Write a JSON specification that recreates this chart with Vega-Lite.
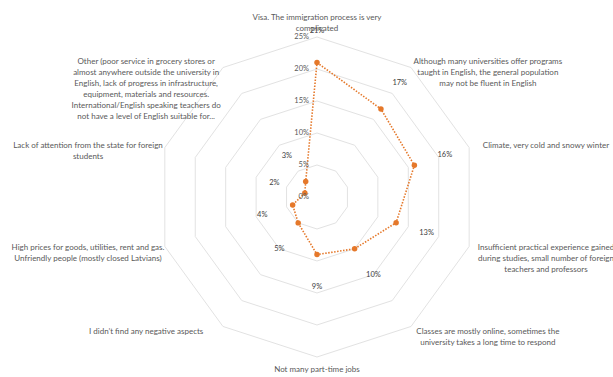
{
  "$schema": "https://vega.github.io/schema/vega-lite/v6.json",
  "width": 613,
  "height": 377,
  "padding": 0,
  "autosize": {"type": "none"},
  "background": "white",
  "config": {"view": {"stroke": null}, "text": {"font": "Lato"}},
  "datasets": {
    "cats": [
      {"i": 0, "value": 21, "label": ["Visa. The immigration process is very", "complicated"]},
      {"i": 1, "value": 17, "label": ["Although many universities offer programs", "taught in English, the general population", "may not be fluent in English"]},
      {"i": 2, "value": 16, "label": ["Climate, very cold and snowy winter"]},
      {"i": 3, "value": 13, "label": ["Insufficient practical experience gained", "during studies, small number of foreign", "teachers and professors"]},
      {"i": 4, "value": 10, "label": ["Classes are mostly online, sometimes the", "university takes a long time to respond"]},
      {"i": 5, "value": 9, "label": ["Not many part-time jobs"]},
      {"i": 6, "value": 5, "label": ["I didn’t find any negative aspects"]},
      {"i": 7, "value": 4, "label": ["High prices for goods, utilities, rent and gas.", "Unfriendly people (mostly closed Latvians)"]},
      {"i": 8, "value": 2, "label": ["Lack of attention from the state for foreign", "students"]},
      {"i": 9, "value": 3, "label": ["Other (poor service in grocery stores or", "almost anywhere outside the university in", "English, lack of progress in infrastructure,", "equipment, materials and resources.", "International/English speaking teachers do", "not have a level of English suitable for..."]}
    ],
    "ticks": [{"t": 0}, {"t": 5}, {"t": 10}, {"t": 15}, {"t": 20}, {"t": 25}]
  },
  "encoding": {
    "x": {"field": "px", "type": "quantitative", "scale": {"domain": [-49.53, 46.25], "nice": false, "zero": false}, "axis": null},
    "y": {"field": "py", "type": "quantitative", "scale": {"domain": [-28.125, 30.78], "nice": false, "zero": false}, "axis": null}
  },
  "layer": [
    {
      "data": {"name": "cats"},
      "transform": [
        {"calculate": "[5, 10, 15, 20, 25]", "as": "ring"},
        {"flatten": ["ring"]},
        {"calculate": "datum.ring * sin(datum.i * PI / 5)", "as": "px"},
        {"calculate": "datum.ring * cos(datum.i * PI / 5)", "as": "py"}
      ],
      "mark": {"type": "line", "interpolate": "linear-closed", "stroke": "#E2E2E2", "strokeWidth": 1},
      "encoding": {"detail": {"field": "ring"}, "order": {"field": "i"}}
    },
    {
      "data": {"name": "cats"},
      "transform": [
        {"calculate": "datum.value * sin(datum.i * PI / 5)", "as": "px"},
        {"calculate": "datum.value * cos(datum.i * PI / 5)", "as": "py"}
      ],
      "mark": {"type": "line", "interpolate": "linear-closed", "stroke": "#E5782A", "strokeWidth": 1.6, "strokeDash": [1.5, 1.5]},
      "encoding": {"order": {"field": "i"}}
    },
    {
      "data": {"name": "cats"},
      "transform": [
        {"calculate": "datum.value * sin(datum.i * PI / 5)", "as": "px"},
        {"calculate": "datum.value * cos(datum.i * PI / 5)", "as": "py"}
      ],
      "mark": {"type": "circle", "size": 30, "color": "#E5782A", "opacity": 1},
      "encoding": {}
    },
    {
      "data": {"name": "cats"},
      "transform": [
        {"calculate": "(datum.value + 5) * sin(datum.i * PI / 5)", "as": "px"},
        {"calculate": "(datum.value + 5) * cos(datum.i * PI / 5)", "as": "py"},
        {"calculate": "datum.value + '%'", "as": "vl"}
      ],
      "mark": {"type": "text", "fontSize": 7.5, "color": "#404040", "align": "center", "baseline": "middle"},
      "encoding": {"text": {"field": "vl"}}
    },
    {
      "data": {"name": "ticks"},
      "transform": [
        {"calculate": "0", "as": "px"},
        {"calculate": "datum.t", "as": "py"},
        {"calculate": "datum.t + '%'", "as": "tl"}
      ],
      "mark": {"type": "text", "fontSize": 7.5, "color": "#595959", "align": "right", "baseline": "middle", "dx": -8},
      "encoding": {"text": {"field": "tl"}}
    },
    {
      "data": {"name": "cats"},
      "transform": [
        {"calculate": "datum.i == 0 || datum.i == 5 ? 0 : 25 * sin(datum.i * PI / 5) + (sin(datum.i * PI / 5) > 0 ? 12 : -12)", "as": "px"},
        {"calculate": "datum.i == 0 ? 27.9 : datum.i == 5 ? -27.0 : 26 * cos(datum.i * PI / 5)", "as": "py"}
      ],
      "mark": {"type": "text", "fontSize": 8, "color": "#595959", "align": "center", "baseline": "middle", "lineHeight": 11},
      "encoding": {"text": {"field": "label"}}
    }
  ]
}
